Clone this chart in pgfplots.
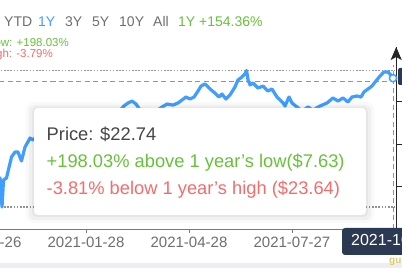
\documentclass[border=0pt]{standalone}
\usepackage{pgfplots}
\pgfplotsset{compat=1.18}
\usepackage{pgfplotstable}
\usepackage{fontspec}
\setmainfont{Liberation Sans}
\usetikzlibrary{arrows.meta}
\definecolor{lineblue}{RGB}{64,158,255}
\definecolor{txtgray}{RGB}{110,110,115}
\definecolor{upgreen}{RGB}{103,194,58}
\definecolor{downred}{RGB}{245,108,108}
\definecolor{navy}{RGB}{43,58,82}
\definecolor{refgray}{RGB}{144,147,153}
\definecolor{axisgray}{RGB}{120,120,125}
\definecolor{bandgray}{RGB}{238,238,242}
\definecolor{pricegray}{RGB}{70,70,72}

\pgfplotstableread{
d p
-82.1 9.62
-75.1 11.03
-73.4 7.63
-72.1 10.80
-69.5 11.03
-65.1 13.50
-62.0 14.08
-59.4 14.08
-56.4 13.03
-53.3 14.67
-48.9 15.72
-46.3 15.49
-40.2 16.31
-34.1 17.13
-28.0 17.72
-22.7 17.01
-16.6 18.07
-9.6 17.60
-2.6 18.54
5.2 18.07
12.2 18.66
21.0 18.30
28.0 18.77
33.2 19.48
36.7 19.83
40.2 20.06
43.7 19.71
47.2 19.01
53.3 18.54
60.3 18.77
66.4 19.36
70.8 19.71
76.0 19.59
80.4 19.83
83.9 20.18
87.4 20.53
90.9 20.30
94.4 20.53
97.9 21.24
100.5 21.82
104.0 22.06
108.4 21.47
112.7 21.00
116.2 20.53
118.8 20.88
122.3 20.30
125.8 20.77
130.2 21.71
132.8 22.53
136.3 22.88
138.9 23.23
140.3 23.64
141.6 22.53
143.4 21.94
145.9 22.18
150.3 21.59
154.7 21.82
159.0 21.24
162.5 21.47
166.9 20.53
172.3 19.83
173.9 19.48
177.4 20.53
180.0 19.83
184.4 19.36
188.8 18.89
194.0 19.36
198.4 19.01
204.5 19.48
210.6 19.83
215.8 20.42
220.2 20.06
224.6 20.42
228.9 19.95
232.4 20.53
236.8 20.65
240.3 20.53
242.9 21.12
246.4 21.47
249.9 21.82
253.4 22.41
256.9 22.99
260.4 23.47
263.9 23.47
266.5 23.11
268.3 22.74
}\pricedata

\begin{document}
\begin{tikzpicture}
\useasboundingbox (0pt,0pt) rectangle (402pt,268pt);
\clip (0pt,0pt) rectangle (402pt,268pt);
\fill[white] (0pt,0pt) rectangle (402pt,268pt);
\fill[bandgray] (0pt,0pt) rectangle (402pt,5pt);
\begin{axis}[
  at={(-60pt,39pt)}, anchor=south west,
  scale only axis, width=456pt, height=182pt,
  xmin=-127.6, xmax=270.9, ymin=5.05, ymax=26.40,
  axis x line*=bottom, axis y line*=right,
  x axis line style={draw=axisgray, line width=0.8pt},
  y axis line style={draw=black!85, line width=0.8pt},
  xtick={-90,0,90,180},
  xticklabels={2020-10-26,2021-01-28,2021-04-28,2021-07-27},
  ytick={10,15,20}, yticklabels={},
  tick align=outside,
  xtick style={draw=axisgray, line width=0.8pt, /pgfplots/major tick length=4pt},
  ytick style={draw=black!85, line width=0.8pt, /pgfplots/major tick length=7pt},
  x tick label style={font=\fontsize{15}{15}\selectfont, text=txtgray},
  clip=true,
]
\addplot[refgray, line width=1.4pt, dash pattern=on 1.6pt off 1.6pt] coordinates {(-127.6,23.64) (270,23.64)};
\addplot[refgray, line width=1.4pt, dash pattern=on 1.6pt off 1.6pt] coordinates {(-127.6,7.63) (270,7.63)};
\addplot[refgray, line width=1pt, dash pattern=on 5pt off 3.5pt] coordinates {(-127.6,22.35) (268.3,22.35)};
\addplot[refgray, line width=1pt, dash pattern=on 5pt off 3.5pt] coordinates {(268.3,5.05) (268.3,24.3)};
\addplot[lineblue, line width=3.2pt, line join=round, line cap=round] table[x=d,y=p]{\pricedata};
\addplot[only marks, mark=*, mark size=3.6pt, mark options={fill=white, draw=lineblue, line width=1.5pt}] coordinates {(268.3,22.74)};
\end{axis}
\begin{scope}[x=1pt,y=-1pt,shift={(0pt,268pt)}]
  % y-axis arrow head
  \draw[black!85, line width=0.8pt, -{Stealth[length=13pt,width=11pt,inset=3pt]}] (396.2,64) -- (396.2,47);
  % y crosshair label
  \fill[navy, rounded corners=2pt] (398,68) rectangle (445,85);
  % x crosshair label
  \fill[navy, rounded corners=3pt] (342,228) rectangle (450,255);
  \node[anchor=base west, inner sep=0pt, text=white, font=\fontsize{16}{16}\selectfont] at (351,246) {2021-10-22};
  \node[anchor=base west, inner sep=0pt, text={rgb,255:red,225;green,200;blue,110}, font=\fontsize{10}{10}\bfseries] at (389,263) {gurufocus};
  % top row
  \begin{scope}[every node/.style={anchor=base west, inner sep=0pt, font=\fontsize{14}{14}\selectfont}]
    \node[text=txtgray] at (4,26.5) {YTD};
    \node[text=lineblue] at (38,26.5) {1Y};
    \node[text=txtgray] at (65,26.5) {3Y};
    \node[text=txtgray] at (92,26.5) {5Y};
    \node[text=txtgray] at (119,26.5) {10Y};
    \node[text=txtgray] at (153,26.5) {All};
    \node[text=upgreen] at (178,26.5) {1Y +154.36\%};
  \end{scope}
  \node[anchor=base east, inner sep=0pt, text=upgreen, font=\fontsize{11.5}{11.5}\selectfont] at (69,47) {Low: +198.03\%};
  \node[anchor=base east, inner sep=0pt, text=downred, font=\fontsize{11.5}{11.5}\selectfont] at (53,57.5) {High: -3.79\%};
  % tooltip shadow
  \fill[black, opacity=0.025, rounded corners=8pt] (26,102) rectangle (374,223);
  \fill[black, opacity=0.035, rounded corners=6pt] (29,105) rectangle (371,220);
  \fill[black, opacity=0.045, rounded corners=5pt] (32,107) rectangle (368,217);
  \fill[white, rounded corners=4pt] (34,108) rectangle (366,215);
  \begin{scope}[every node/.style={anchor=base west, inner sep=0pt, font=\fontsize{18.3}{18.3}\selectfont}]
    \node[text=pricegray] at (46.5,140.5) {Price: \$22.74};
    \node[text=upgreen] at (46.5,167.5) {+198.03\% above 1 year's low(\$7.63)};
    \node[text=downred] at (46.5,194.5) {-3.81\% below 1 year's high (\$23.64)};
  \end{scope}
\end{scope}
\end{tikzpicture}
\end{document}
